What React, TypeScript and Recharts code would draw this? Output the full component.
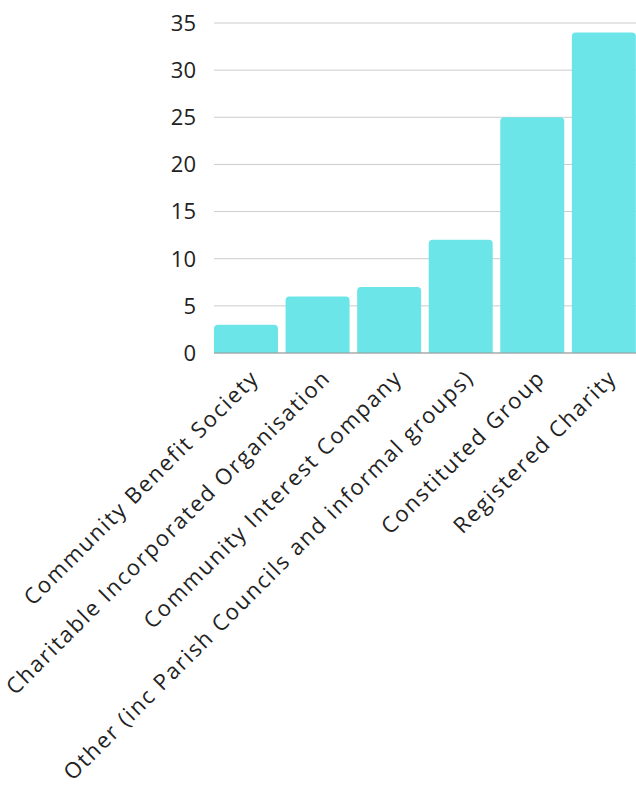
import { BarChart, Bar, XAxis, YAxis, CartesianGrid } from "recharts";

const categories = [
  "Community Benefit Society",
  "Charitable Incorporated Organisation",
  "Community Interest Company",
  "Other (inc Parish Councils and informal groups)",
  "Constituted Group",
  "Registered Charity",
];
const counts = [3, 6, 7, 12, 25, 34];
const yTicks = [0, 5, 10, 15, 20, 25, 30, 35];

const data = categories.map((name, i) => ({ name, value: counts[i] }));

const FONT = "'Open Sans', Lato, sans-serif";

function XTick(props: any) {
  const { x, y, payload } = props;
  return (
    <g transform={`translate(${x + 10},${y + 14})`}>
      <text
        transform="rotate(-45)"
        textAnchor="end"
        fontFamily={FONT}
        fontSize={22}
        letterSpacing={1.8}
        fill="#222"
        dy={6}
      >
        {payload.value}
      </text>
    </g>
  );
}

export default function App() {
  return (
    <div style={{ position: "absolute", left: 0, top: 0 }}>
      <BarChart
        width={636}
        height={789}
        data={data}
        margin={{ top: 23, right: 0, bottom: 0, left: 0 }}
        barCategoryGap={3.7}
      >
        <CartesianGrid vertical={false} stroke="#cccccc" />
        <XAxis
          dataKey="name"
          interval={0}
          height={436}
          padding={{ left: -3.7, right: -3.7 }}
          tickLine={false}
          axisLine={{ stroke: "#999" }}
          tick={<XTick />}
        />
        <YAxis
          width={214}
          domain={[0, 35]}
          ticks={yTicks}
          tickLine={false}
          axisLine={false}
          tickMargin={12}
          tick={{ fill: "#222", fontSize: 22, fontFamily: FONT }}
        />
        <Bar
          dataKey="value"
          fill="#6be5e8"
          radius={[4, 4, 0, 0]}
          isAnimationActive={false}
        />
      </BarChart>
    </div>
  );
}
